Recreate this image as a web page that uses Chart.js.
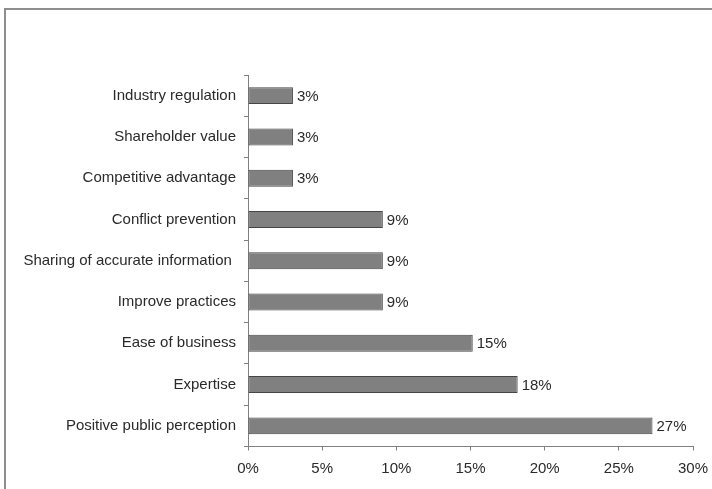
<!DOCTYPE html>
<html>
<head>
<meta charset="utf-8">
<script src="https://cdn.jsdelivr.net/npm/chart.js@4/dist/chart.umd.min.js"></script>
<style>
  html, body { margin: 0; padding: 0; background: #fff; }
  #wrap { width: 712px; height: 489px; position: relative; }
</style>
</head>
<body>
<div id="wrap"><canvas id="chart" width="712" height="489"></canvas></div>
<script>
// reasons given, share of respondents (%)
const categories = [
    'Industry regulation',
    'Shareholder value',
    'Competitive advantage',
    'Conflict prevention',
    'Sharing of accurate information ',
    'Improve practices',
    'Ease of business',
    'Expertise',
    'Positive public perception'
];
const shares = [3.03, 3.03, 3.03, 9.09, 9.09, 9.09, 15.15, 18.18, 27.27];
const shareLabels = ['3%', '3%', '3%', '9%', '9%', '9%', '15%', '18%', '27%'];
const xTicks = [0, 5, 10, 15, 20, 25, 30];

const FONT = { family: '"Liberation Sans", Arial, sans-serif', size: 15 };
const TEXT = '#2a2a2a';
const AXIS = '#808080';

// frame round the picture (top + left edges visible)
const framePlugin = {
    id: 'frame',
    beforeDraw(chart) {
        const ctx = chart.ctx;
        ctx.save();
        ctx.strokeStyle = '#8e8e8e';
        ctx.lineWidth = 2;
        ctx.beginPath();
        ctx.moveTo(5, 489);
        ctx.lineTo(5, 9);
        ctx.lineTo(712, 9);
        ctx.stroke();
        ctx.restore();
    }
};

// value labels at the end of each bar
const barLabels = {
    id: 'barLabels',
    afterDatasetsDraw(chart) {
        const ctx = chart.ctx;
        const meta = chart.getDatasetMeta(0);
        ctx.save();
        ctx.font = FONT.size + 'px ' + FONT.family;
        ctx.fillStyle = TEXT;
        ctx.textAlign = 'left';
        ctx.textBaseline = 'middle';
        meta.data.forEach((bar, i) => {
            ctx.fillText(shareLabels[i], bar.x + 4, bar.y + 1);
        });
        ctx.restore();
    }
};

new Chart(document.getElementById('chart'), {
    type: 'bar',
    data: {
        labels: categories,
        datasets: [{
            data: shares,
            backgroundColor: '#808080',
            borderColor: '#454545',
            borderWidth: 1,
            borderSkipped: false,
            barPercentage: 0.41,
            categoryPercentage: 1
        }]
    },
    options: {
        indexAxis: 'y',
        responsive: false,
        animation: false,
        layout: { padding: { left: 0, top: 75, right: 19, bottom: 0 } },
        plugins: {
            legend: { display: false },
            tooltip: { enabled: false }
        },
        scales: {
            x: {
                min: 0,
                max: 30,
                afterBuildTicks(scale) {
                    scale.ticks = xTicks.map(v => ({ value: v }));
                },
                afterFit(scale) {
                    scale.height = 42.5;
                    scale.paddingLeft = 0;
                    scale.paddingRight = 0;
                },
                grid: { drawOnChartArea: false, drawTicks: true, tickLength: 4, color: AXIS },
                border: { color: AXIS, width: 1 },
                ticks: {
                    font: FONT,
                    color: TEXT,
                    padding: 9,
                    maxRotation: 0,
                    callback: v => v + '%'
                }
            },
            y: {
                afterFit(scale) { scale.width = 248; },
                grid: { drawOnChartArea: false, drawTicks: true, tickLength: 4, color: AXIS, offset: true },
                border: { color: AXIS, width: 1 },
                ticks: { font: FONT, color: TEXT, padding: 8 }
            }
        }
    },
    plugins: [framePlugin, barLabels]
});
</script>
</body>
</html>
